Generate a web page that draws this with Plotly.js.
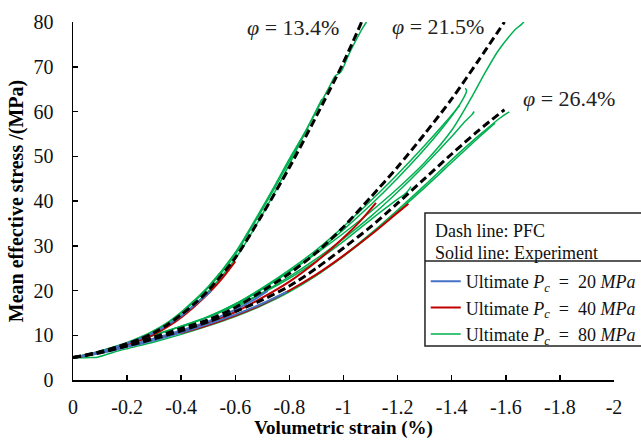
<!DOCTYPE html>
<html>
<head>
<meta charset="utf-8">
<script src="https://cdn.plot.ly/plotly-3.0.1.min.js"></script>
<style>html,body{margin:0;padding:0;background:#fff}#chart{width:641px;height:440px}</style>
</head>
<body>
<div id="chart"></div>
<script>
// ---- tick labels ----
const xTickVals = [0,-0.2,-0.4,-0.6,-0.8,-1,-1.2,-1.4,-1.6,-1.8,-2];
const xTickText = ['0','-0.2','-0.4','-0.6','-0.8','-1','-1.2','-1.4','-1.6','-1.8','-2'];
const yTickVals = [0,10,20,30,40,50,60,70,80];

// ---- porosity 13.4% ----
const pfcA_x = [0,-0.1,-0.2,-0.25,-0.3,-0.35,-0.4,-0.45,-0.5,-0.6,-0.7,-0.8,-0.9,-1.0,-1.067];
const pfcA_y = [5,6.3,8.1,9.2,10.6,12.4,14.6,17.1,20.0,27.3,37.0,47.5,59.0,71.0,80.0];
const A_blue_x = [0,-0.05,-0.1,-0.15,-0.2,-0.25,-0.3,-0.35,-0.4,-0.45,-0.51];
const A_blue_y = [5,5.6,6.3,7.2,8.2,9.3,10.6,12.3,14.3,16.8,19.9];
const A_red_x = [0,-0.1,-0.2,-0.25,-0.3,-0.35,-0.4,-0.45,-0.5,-0.55,-0.6];
const A_red_y = [5,6.1,7.8,8.9,10.2,11.9,14.0,16.5,19.3,22.6,26.5];
const A_g1_x = [0,-0.1,-0.2,-0.25,-0.3,-0.35,-0.4,-0.45,-0.5,-0.6,-0.7,-0.75,-0.8,-0.85,-0.9,-0.95,-0.97,-0.99,-1.02,-1.05,-1.07,-1.085];
const A_g1_y = [5,6.5,8.4,9.6,11.1,12.9,15.2,17.9,20.9,28.5,38.6,43.9,49.4,54.6,60.1,65.8,68.0,68.8,72.8,76.4,78.6,80.0];
const A_g2_x = [-0.1,-0.2,-0.25,-0.3,-0.35,-0.4,-0.45,-0.5,-0.6,-0.7,-0.8,-0.85,-0.9,-0.92];
const A_g2_y = [6.0,7.7,8.8,10.2,12.0,14.3,16.9,19.8,27.1,37.0,48.2,54.3,60.4,62.8];
const A_g3_x = [-0.2,-0.3,-0.35,-0.4,-0.45,-0.5,-0.6,-0.65,-0.7,-0.75,-0.8,-0.84,-0.87];
const A_g3_y = [8.1,10.8,12.7,14.9,17.6,20.6,28.0,33.0,38.1,43.4,48.9,53.4,56.2];

// ---- porosity 21.5% ----
const pfcB_x = [0,-0.1,-0.2,-0.3,-0.4,-0.5,-0.6,-0.7,-0.8,-0.9,-1.0,-1.1,-1.2,-1.3,-1.4,-1.5,-1.595];
const pfcB_y = [5,6.2,7.8,9.6,11.5,13.5,16.2,19.9,23.8,28.5,34.2,40.8,47.6,55.0,62.8,71.5,80.0];
const B_blue_x = [0,-0.1,-0.2,-0.3,-0.4,-0.5,-0.6,-0.66,-0.72];
const B_blue_y = [5,6.1,7.6,9.3,11.1,13.1,15.7,17.6,19.9];
const B_red_x = [-0.3,-0.4,-0.5,-0.6,-0.7,-0.8,-0.9,-1.0,-1.06,-1.12];
const B_red_y = [9.1,10.9,12.8,15.2,18.4,22.0,26.5,31.8,35.4,39.6];
const B_g1_x = [0,-0.1,-0.2,-0.3,-0.4,-0.5,-0.6,-0.7,-0.8,-0.9,-1.0,-1.1,-1.2,-1.3,-1.4,-1.47,-1.52,-1.57,-1.61,-1.64,-1.655,-1.667];
const B_g1_y = [5,6.3,8.1,10.0,12.0,14.2,17.0,20.5,24.2,28.3,32.8,37.6,42.8,48.6,55.8,62.8,68.3,73.4,76.6,78.6,79.3,80.0];
const B_g2_x = [-0.5,-0.6,-0.7,-0.8,-0.9,-1.0,-1.1,-1.2,-1.3,-1.4,-1.44,-1.455,-1.45];
const B_g2_y = [14.0,16.8,20.3,24.2,28.6,33.6,39.1,45.1,51.6,59.0,62.6,64.6,65.2];
const B_g3_x = [-0.6,-0.7,-0.8,-0.9,-1.0,-1.1,-1.2,-1.3,-1.4,-1.45,-1.475,-1.483];
const B_g3_y = [16.1,19.5,23.1,27.1,31.6,36.5,42.0,48.0,54.4,57.8,59.3,60.0];
const B_g4_x = [-0.4,-0.5,-0.6,-0.7,-0.8,-0.9,-1.0,-1.1,-1.2,-1.3,-1.38,-1.43];
const B_g4_y = [11.8,14.1,17.0,20.6,24.6,29.1,34.3,40.0,46.0,52.4,57.8,61.4];

// ---- porosity 26.4% ----
const pfcC_x = [0,-0.1,-0.2,-0.3,-0.4,-0.5,-0.6,-0.7,-0.8,-0.9,-1.0,-1.1,-1.2,-1.3,-1.4,-1.5,-1.595];
const pfcC_y = [5,6.1,7.6,9.2,11.0,13.0,15.3,17.9,21.0,25.0,29.5,34.2,39.5,45.0,50.5,55.8,60.4];
const C_blue_x = [0,-0.1,-0.2,-0.3,-0.4,-0.5,-0.6,-0.7,-0.79];
const C_blue_y = [5,6.0,7.4,8.9,10.6,12.5,14.6,17.1,19.7];
const C_red_x = [-0.4,-0.5,-0.6,-0.7,-0.8,-0.9,-1.0,-1.1,-1.2,-1.24];
const C_red_y = [10.5,12.3,14.4,16.9,20.0,23.6,27.8,32.4,37.4,39.4];
const C_g1_x = [0,-0.05,-0.09,-0.15,-0.2,-0.3,-0.4,-0.5,-0.6,-0.7,-0.8,-0.9,-1.0,-1.1,-1.2,-1.3,-1.4,-1.5,-1.58,-1.613];
const C_g1_y = [5,5.0,5.1,6.2,7.0,8.5,10.2,12.1,14.2,16.7,19.7,23.4,27.8,32.7,38.0,43.5,49.2,54.6,58.6,59.9];
const C_g2_x = [0,-0.1,-0.2,-0.3,-0.4,-0.5,-0.6,-0.7,-0.8,-0.9,-1.0,-1.1,-1.2,-1.23,-1.25];
const C_g2_y = [5,6.4,8.2,10.1,12.0,14.1,16.6,19.4,22.7,26.6,31.0,35.8,40.4,41.7,43.2];
const C_g3_x = [-0.3,-0.4,-0.5,-0.6,-0.7,-0.8,-0.9,-1.0,-1.1,-1.2,-1.3,-1.4,-1.5,-1.56];
const C_g3_y = [8.9,10.6,12.5,14.6,17.0,20.0,23.4,27.6,32.4,37.6,43.0,48.6,54.2,57.4];

const legendNames = ['Ultimate <i>P<sub>c</sub></i>&nbsp;&nbsp;=&nbsp;&nbsp;20&nbsp;<i>MPa</i>',
                     'Ultimate <i>P<sub>c</sub></i>&nbsp;&nbsp;=&nbsp;&nbsp;40&nbsp;<i>MPa</i>',
                     'Ultimate <i>P<sub>c</sub></i>&nbsp;&nbsp;=&nbsp;&nbsp;80&nbsp;<i>MPa</i>'];
const porosityLabels = ['<i>φ</i> = 13.4%','<i>φ</i> = 21.5%','<i>φ</i> = 26.4%'];

const BLUE = '#4472C4', RED = '#C00000', GREEN = '#00B050';
const SERIF = 'Liberation Serif, Times New Roman, serif';

function exp(x, y, color, width, legendIdx) {
  const t = {x: x, y: y, type: 'scatter', mode: 'lines',
    line: {color: color, width: width, shape: 'spline', smoothing: 0.8}, hoverinfo: 'skip',
    showlegend: false};
  if (legendIdx !== undefined) {
    t.showlegend = true; t.name = legendNames[legendIdx]; t.legendrank = legendIdx + 1;
  }
  return t;
}
function pfc(x, y) {
  return {x: x, y: y, type: 'scatter', mode: 'lines',
    line: {color: '#000', width: 3, dash: '8px,4px', shape: 'spline', smoothing: 0.8}, showlegend: false, hoverinfo: 'skip'};
}

const data = [
  exp(A_g1_x, A_g1_y, GREEN, 1.5, 2), exp(A_g2_x, A_g2_y, GREEN, 1.5), exp(A_g3_x, A_g3_y, GREEN, 1.5),
  exp(B_g1_x, B_g1_y, GREEN, 1.5), exp(B_g2_x, B_g2_y, GREEN, 1.5), exp(B_g3_x, B_g3_y, GREEN, 1.5), exp(B_g4_x, B_g4_y, GREEN, 1.5),
  exp(C_g1_x, C_g1_y, GREEN, 1.5), exp(C_g2_x, C_g2_y, GREEN, 1.5), exp(C_g3_x, C_g3_y, GREEN, 1.5),
  exp(A_red_x, A_red_y, RED, 2, 1), exp(B_red_x, B_red_y, RED, 2), exp(C_red_x, C_red_y, RED, 2),
  exp(A_blue_x, A_blue_y, BLUE, 2, 0), exp(B_blue_x, B_blue_y, BLUE, 2), exp(C_blue_x, C_blue_y, BLUE, 2),
  pfc(pfcA_x, pfcA_y), pfc(pfcB_x, pfcB_y), pfc(pfcC_x, pfcC_y)
];

const layout = {
  width: 641, height: 440,
  margin: {l: 73, r: 27, t: 22, b: 60, autoexpand: false},
  paper_bgcolor: '#fff', plot_bgcolor: '#fff',
  font: {family: SERIF, size: 20, color: '#000'},
  showlegend: true,
  legend: {x: 0.652, y: 0.327, xanchor: 'left', yanchor: 'top', bgcolor: 'rgba(0,0,0,0)',
           font: {family: SERIF, size: 18, color: '#111'}, tracegroupgap: 0},
  xaxis: {range: [0, -2], tickvals: xTickVals, ticktext: xTickText,
          showline: true, linecolor: '#000', linewidth: 1.5, ticks: 'inside', ticklen: 5, tickwidth: 1.5, tickcolor: '#000',
          showgrid: false, zeroline: false, ticklabelstandoff: 8,
          tickfont: {family: SERIF, size: 20, color: '#111'},
          title: {text: 'Volumetric strain (%)', standoff: 2, font: {family: SERIF, size: 19, color: '#000', weight: 'bold'}}},
  yaxis: {range: [0, 80], tickvals: yTickVals,
          showline: true, linecolor: '#000', linewidth: 1.5, ticks: 'inside', ticklen: 5, tickwidth: 1.5, tickcolor: '#000',
          showgrid: false, zeroline: false, ticklabelstandoff: 14,
          tickfont: {family: SERIF, size: 20, color: '#111'},
          title: {text: 'Mean effective stress /(MPa)', standoff: 4, font: {family: SERIF, size: 20, color: '#000', weight: 'bold'}}},
  shapes: [
    {type: 'rect', xref: 'paper', yref: 'paper', x0: 0.6506, x1: 1.2, y0: 0.095, y1: 0.4665,
     line: {color: '#222', width: 1.5}, fillcolor: 'rgba(0,0,0,0)', layer: 'above'},
    {type: 'line', xref: 'paper', yref: 'paper', x0: 0.6506, x1: 1.2, y0: 0.3324, y1: 0.3324,
     line: {color: '#222', width: 1.5}, layer: 'above'}
  ],
  annotations: [
    {xref: 'paper', yref: 'paper', x: 0.6654, y: 0.417, xanchor: 'left', yanchor: 'middle', showarrow: false,
     text: 'Dash line: PFC', font: {family: SERIF, size: 18, color: '#111'}},
    {xref: 'paper', yref: 'paper', x: 0.6654, y: 0.355, xanchor: 'left', yanchor: 'middle', showarrow: false,
     text: 'Solid line: Experiment', font: {family: SERIF, size: 18, color: '#111'}},
    {x: -0.636, y: 78.7, xanchor: 'left', yanchor: 'middle', showarrow: false, text: porosityLabels[0],
     font: {family: SERIF, size: 22, color: '#222'}},
    {x: -1.172, y: 78.9, xanchor: 'left', yanchor: 'middle', showarrow: false, text: porosityLabels[1],
     font: {family: SERIF, size: 22, color: '#222'}},
    {x: -1.656, y: 63.0, xanchor: 'left', yanchor: 'middle', showarrow: false, text: porosityLabels[2],
     font: {family: SERIF, size: 22, color: '#222'}}
  ]
};

Plotly.newPlot('chart', data, layout, {displayModeBar: false, staticPlot: true});
</script>
</body>
</html>
